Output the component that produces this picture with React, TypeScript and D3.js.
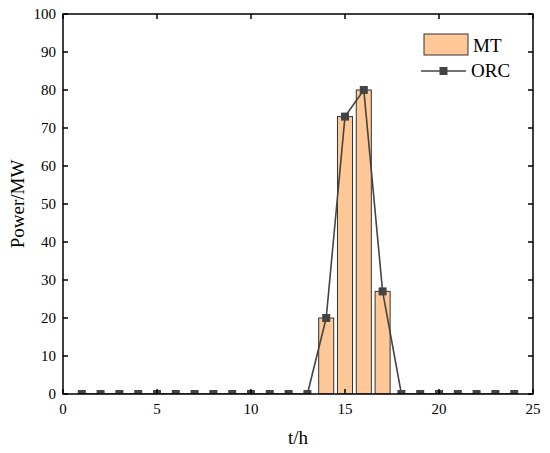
import { useEffect, useRef } from "react";
import * as d3 from "d3";

const hours = d3.range(1, 25);
const mtValues = [0, 0, 0, 0, 0, 0, 0, 0, 0, 0, 0, 0, 0, 20, 73, 80, 27, 0, 0, 0, 0, 0, 0, 0];
const orcValues = [0, 0, 0, 0, 0, 0, 0, 0, 0, 0, 0, 0, 0, 20, 73, 80, 27, 0, 0, 0, 0, 0, 0, 0];
const xTicks = [0, 5, 10, 15, 20, 25];
const yTicks = [0, 10, 20, 30, 40, 50, 60, 70, 80, 90, 100];

export default function App() {
  const ref = useRef<SVGSVGElement>(null);

  useEffect(() => {
    const svg = d3.select(ref.current);
    svg.selectAll("*").remove();

    const left = 63, right = 533, top = 14, bottom = 394;
    const font = "'Liberation Serif', 'Times New Roman', serif";

    const x = d3.scaleLinear().domain([0, 25]).range([left, right]);
    const y = d3.scaleLinear().domain([0, 100]).range([bottom, top]);

    svg.append("defs")
      .append("clipPath")
      .attr("id", "plot-clip")
      .append("rect")
      .attr("x", left)
      .attr("y", top)
      .attr("width", right - left)
      .attr("height", bottom - top);

    const plot = svg.append("g").attr("clip-path", "url(#plot-clip)");

    // MT bars
    const bw = 0.8;
    plot.selectAll(".bar")
      .data(hours.map((h, i) => ({ h, v: mtValues[i] })).filter(d => d.v > 0))
      .enter()
      .append("rect")
      .attr("x", d => x(d.h - bw / 2))
      .attr("y", d => y(d.v))
      .attr("width", x(bw) - x(0))
      .attr("height", d => y(0) - y(d.v))
      .attr("fill", "#FFC896")
      .attr("stroke", "#333")
      .attr("stroke-width", 1);

    // ORC line
    const pts = hours.map((h, i) => ({ h, v: orcValues[i] }));
    const line = d3.line<{ h: number; v: number }>()
      .x(d => x(d.h))
      .y(d => y(d.v));
    plot.append("path")
      .attr("d", line(pts))
      .attr("fill", "none")
      .attr("stroke", "#444")
      .attr("stroke-width", 1.6);

    const ms = 8;
    plot.selectAll(".mk")
      .data(pts)
      .enter()
      .append("rect")
      .attr("x", d => x(d.h) - ms / 2)
      .attr("y", d => y(d.v) - ms / 2)
      .attr("width", ms)
      .attr("height", ms)
      .attr("fill", "#444");

    // frame
    svg.append("rect")
      .attr("x", left)
      .attr("y", top)
      .attr("width", right - left)
      .attr("height", bottom - top)
      .attr("fill", "none")
      .attr("stroke", "#000")
      .attr("stroke-width", 1.5);

    const tl = 5;
    const bottomAxis = svg.append("g");
    xTicks.forEach(t => {
      bottomAxis.append("line")
        .attr("x1", x(t)).attr("x2", x(t))
        .attr("y1", bottom).attr("y2", bottom - tl)
        .attr("stroke", "#000").attr("stroke-width", 1.5);
      bottomAxis.append("line")
        .attr("x1", x(t)).attr("x2", x(t))
        .attr("y1", top).attr("y2", top + tl)
        .attr("stroke", "#000").attr("stroke-width", 1.5);
      bottomAxis.append("text")
        .attr("x", x(t))
        .attr("y", bottom + 20)
        .attr("text-anchor", "middle")
        .attr("font-family", font)
        .attr("font-size", 15)
        .text(t);
    });

    const leftAxis = svg.append("g");
    yTicks.forEach(t => {
      leftAxis.append("line")
        .attr("x1", left).attr("x2", left + tl)
        .attr("y1", y(t)).attr("y2", y(t))
        .attr("stroke", "#000").attr("stroke-width", 1.5);
      leftAxis.append("line")
        .attr("x1", right).attr("x2", right - tl)
        .attr("y1", y(t)).attr("y2", y(t))
        .attr("stroke", "#000").attr("stroke-width", 1.5);
      leftAxis.append("text")
        .attr("x", left - 7)
        .attr("y", y(t) + 5)
        .attr("text-anchor", "end")
        .attr("font-family", font)
        .attr("font-size", 15)
        .text(t);
    });

    svg.append("text")
      .attr("x", (left + right) / 2)
      .attr("y", 444)
      .attr("text-anchor", "middle")
      .attr("font-family", font)
      .attr("font-size", 19)
      .text("t/h");

    svg.append("text")
      .attr("transform", `translate(24, ${(top + bottom) / 2}) rotate(-90)`)
      .attr("text-anchor", "middle")
      .attr("font-family", font)
      .attr("font-size", 19)
      .text("Power/MW");

    // legend
    const lg = svg.append("g");
    lg.append("rect")
      .attr("x", 424).attr("y", 34)
      .attr("width", 44).attr("height", 21)
      .attr("fill", "#FFC896")
      .attr("stroke", "#333")
      .attr("stroke-width", 1);
    lg.append("text")
      .attr("x", 473).attr("y", 52)
      .attr("font-family", font)
      .attr("font-size", 19)
      .text("MT");
    lg.append("line")
      .attr("x1", 421).attr("x2", 466)
      .attr("y1", 71).attr("y2", 71)
      .attr("stroke", "#444").attr("stroke-width", 1.6);
    lg.append("rect")
      .attr("x", 443.5 - ms / 2).attr("y", 71 - ms / 2)
      .attr("width", ms).attr("height", ms)
      .attr("fill", "#444");
    lg.append("text")
      .attr("x", 471).attr("y", 77)
      .attr("font-family", font)
      .attr("font-size", 19)
      .text("ORC");
  }, []);

  return (
    <svg
      ref={ref}
      width={550}
      height={453}
      style={{ position: "absolute", left: 0, top: 0, background: "#fff" }}
    />
  );
}
